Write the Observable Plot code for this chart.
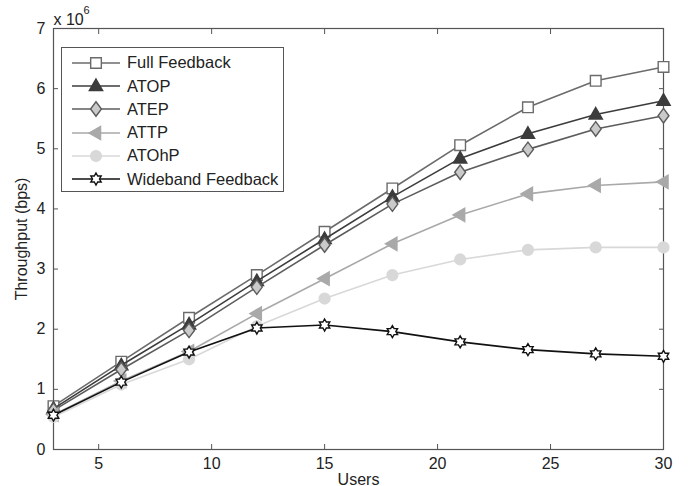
<!DOCTYPE html>
<html>
<head>
<meta charset="utf-8">
<script src="https://cdn.jsdelivr.net/npm/d3@7"></script>
<script src="https://cdn.jsdelivr.net/npm/@observablehq/plot@0.6"></script>
<style>
  html, body { margin: 0; padding: 0; background: #fff; }
  #wrap { position: relative; width: 690px; height: 486px; overflow: hidden; font-family: "Liberation Sans", Arial, sans-serif; }
  #legend { position: absolute; left: 61px; top: 47px; width: 223px; height: 145px; border: 1px solid #555; background: #fff; box-sizing: border-box; }
  .row { position: absolute; left: 0; height: 24px; display: flex; align-items: center; }
  .row svg { margin-left: 10px; }
  .row span { margin-left: 7px; font-size: 16.5px; color: #222; }
</style>
</head>
<body>
<div id="wrap"></div>
<script>
// ---- data (throughput in bps) ----
const users = [3, 6, 9, 12, 15, 18, 21, 24, 27, 30];
const seriesNames = ["Full Feedback", "ATOP", "ATEP", "ATTP", "ATOhP", "Wideband Feedback"];
const fullFeedback = [0.72, 1.46, 2.19, 2.90, 3.62, 4.34, 5.06, 5.69, 6.13, 6.36];
const atop = [0.68, 1.40, 2.08, 2.80, 3.50, 4.20, 4.84, 5.25, 5.57, 5.80];
const atep = [0.65, 1.33, 1.98, 2.70, 3.40, 4.08, 4.61, 4.99, 5.33, 5.55];
const attp = [0.58, 1.14, 1.63, 2.26, 2.84, 3.42, 3.90, 4.25, 4.39, 4.45];
const atohp = [0.54, 1.08, 1.50, 2.05, 2.51, 2.90, 3.16, 3.32, 3.36, 3.36];
const wideband = [0.57, 1.12, 1.62, 2.02, 2.07, 1.96, 1.79, 1.66, 1.59, 1.55];
const xTicks = [5, 10, 15, 20, 25, 30];
const yTicks = [0, 1, 2, 3, 4, 5, 6, 7];
const scaleExp = 1e6;

// ---- custom marker symbols ----
function rad(size) { return Math.sqrt(size / Math.PI); }
const symSquare = { draw(c, s) { const r = rad(s) * 0.95; c.rect(-r, -r, 2 * r, 2 * r); } };
const symTriUp = { draw(c, s) { const r = rad(s) * 1.25; c.moveTo(0, -r); c.lineTo(r * 0.95, r * 0.65); c.lineTo(-r * 0.95, r * 0.65); c.closePath(); } };
const symDiamond = { draw(c, s) { const r = rad(s) * 1.3; c.moveTo(0, -r); c.lineTo(r * 0.75, 0); c.lineTo(0, r); c.lineTo(-r * 0.75, 0); c.closePath(); } };
const symTriLeft = { draw(c, s) { const r = rad(s) * 1.25; c.moveTo(-r, 0); c.lineTo(r * 0.65, -r * 0.95); c.lineTo(r * 0.65, r * 0.95); c.closePath(); } };
const symCircle = { draw(c, s) { const r = rad(s); c.moveTo(r, 0); c.arc(0, 0, r, 0, 2 * Math.PI); } };
const symHex = { draw(c, s) {
  const R = rad(s) * 1.15, ri = R / Math.sqrt(3);
  for (let i = 0; i < 12; i++) {
    const a = -Math.PI / 2 + i * Math.PI / 6, rr = i % 2 === 0 ? R : ri;
    const px = rr * Math.cos(a), py = rr * Math.sin(a);
    if (i === 0) c.moveTo(px, py); else c.lineTo(px, py);
  }
  c.closePath();
} };

const styles = [
  { values: fullFeedback, line: "#6b6b6b", fill: "#fff", stroke: "#6b6b6b", symbol: symSquare, r: 5.6 },
  { values: atop, line: "#3c3c3c", fill: "#3c3c3c", stroke: "#3c3c3c", symbol: symTriUp, r: 5.6 },
  { values: atep, line: "#5c5c5c", fill: "#cacaca", stroke: "#5c5c5c", symbol: symDiamond, r: 5.6 },
  { values: attp, line: "#a9a9a9", fill: "#a9a9a9", stroke: "#a9a9a9", symbol: symTriLeft, r: 5.6 },
  { values: atohp, line: "#d8d8d8", fill: "#d8d8d8", stroke: "#d8d8d8", symbol: symCircle, r: 5.4 },
  { values: wideband, line: "#111", fill: "#fff", stroke: "#111", symbol: symHex, r: 5.2 }
];

const marks = [];
styles.forEach((st, i) => {
  const data = users.map((u, j) => ({ users: u, tp: st.values[j] * scaleExp }));
  marks.push(Plot.line(data, { x: "users", y: "tp", stroke: st.line, strokeWidth: 1.6 }));
  marks.push(Plot.dot(data, { x: "users", y: "tp", symbol: st.symbol, r: st.r, fill: st.fill, stroke: st.stroke, strokeWidth: 1.4 }));
});

const axisColor = "#555";
const chart = Plot.plot({
  width: 690,
  height: 486,
  marginLeft: 53,
  marginRight: 27,
  marginTop: 28,
  marginBottom: 37,
  style: { fontFamily: "'Liberation Sans', Arial, sans-serif", fontSize: "16px", color: "#222", background: "#fff", overflow: "visible" },
  x: { domain: [3, 30] },
  y: { domain: [0, 7 * scaleExp] },
  marks: [
    Plot.frame({ stroke: axisColor, strokeWidth: 1.2 }),
    ...marks,
    Plot.axisX(xTicks, { anchor: "bottom", tickSize: -5, tickPadding: 13, stroke: axisColor, fill: "#222", label: "Users", labelAnchor: "center", labelArrow: "none", labelOffset: 35, fontSize: 16 }),
    Plot.axisX(xTicks, { anchor: "top", tickSize: -5, tickFormat: () => "", label: null, stroke: axisColor }),
    Plot.axisY(yTicks.map(d => d * scaleExp), { anchor: "left", tickSize: -5, tickPadding: 13, stroke: axisColor, fill: "#222", tickFormat: d => String(d / scaleExp), label: "Throughput (bps)", labelAnchor: "center", labelArrow: "none", labelOffset: 38, fontSize: 16 }),
    Plot.axisY(yTicks.map(d => d * scaleExp), { anchor: "right", tickSize: -5, tickFormat: () => "", label: null, stroke: axisColor }),
    Plot.text(["x 10"], { frameAnchor: "top-left", dx: 0, dy: -15, textAnchor: "start", fontSize: 16, fill: "#222" }),
    Plot.text(["6"], { frameAnchor: "top-left", dx: 30, dy: -22, textAnchor: "start", fontSize: 11, fill: "#222" })
  ]
});

const wrap = document.getElementById("wrap");
wrap.appendChild(chart);

// ---- legend (inside frame, top-left) ----
const legend = document.createElement("div");
legend.id = "legend";
styles.forEach((st, i) => {
  const row = document.createElement("div");
  row.className = "row";
  row.style.top = (2.7 + i * 23.3) + "px";
  const svg = d3.create("svg").attr("width", 48).attr("height", 20);
  svg.append("line").attr("x1", 0).attr("x2", 48).attr("y1", 10).attr("y2", 10).attr("stroke", st.line).attr("stroke-width", 1.6);
  svg.append("path").attr("transform", "translate(24,10)")
    .attr("d", d3.symbol(st.symbol, Math.PI * st.r * st.r)())
    .attr("fill", st.fill).attr("stroke", st.stroke).attr("stroke-width", 1.4);
  row.appendChild(svg.node());
  const span = document.createElement("span");
  span.textContent = seriesNames[i];
  row.appendChild(span);
  legend.appendChild(row);
});
wrap.appendChild(legend);
</script>
</body>
</html>
